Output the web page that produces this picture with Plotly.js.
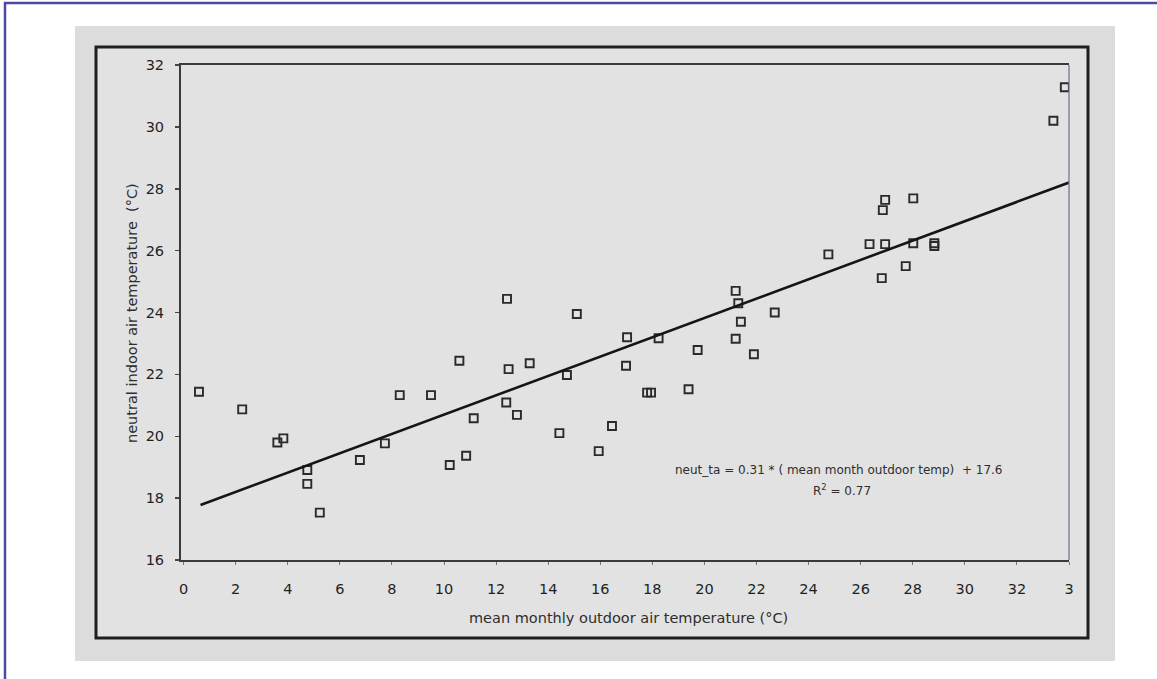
<!DOCTYPE html>
<html>
<head>
<meta charset="utf-8">
<script src="https://cdn.plot.ly/plotly-3.0.1.min.js"></script>
<style>html,body{margin:0;padding:0;background:#fff;}#chart{width:1157px;height:679px;}</style>
</head>
<body>
<div id="chart"></div>
<script>
// Observed points: mean monthly outdoor air temperature (°C) vs neutral indoor air temperature (°C)
const outdoorTemp = [0.59, 2.25, 3.6, 3.83, 4.75, 4.75, 5.23, 6.77, 7.73, 8.3, 9.5, 10.22, 10.59, 10.85, 11.14,
  12.39, 12.42, 12.48, 12.8, 13.29, 14.43, 14.72, 15.1, 15.94, 16.45, 16.99, 17.03, 17.8, 17.95, 18.24,
  19.39, 19.74, 21.2, 21.3, 21.4, 21.2, 21.9, 22.7, 24.76, 26.34, 26.81, 26.85, 26.94, 26.94, 27.73,
  28.02, 28.02, 28.83, 28.83, 33.4, 33.84];
const neutralTemp = [21.44, 20.87, 19.8, 19.93, 18.91, 18.46, 17.53, 19.23, 19.77, 21.33, 21.33, 19.07, 22.44, 19.37, 20.58,
  21.09, 24.44, 22.17, 20.69, 22.36, 20.1, 21.98, 23.95, 19.52, 20.33, 22.28, 23.2, 21.41, 21.41, 23.17,
  21.52, 22.79, 24.7, 24.3, 23.7, 23.15, 22.65, 24.0, 25.88, 26.21, 25.11, 27.31, 27.64, 26.21, 25.5,
  27.69, 26.24, 26.24, 26.15, 30.2, 31.28];
// Regression line
const fitX = [0.65, 34];
const fitY = [17.78, 28.2];
// Axis ticks
const xTickVals = [0, 2, 4, 6, 8, 10, 12, 14, 16, 18, 20, 22, 24, 26, 28, 30, 32, 34];
const xTickText = ['0', '2', '4', '6', '8', '10', '12', '14', '16', '18', '20', '22', '24', '26', '28', '30', '32', '3'];
const yTickVals = [16, 18, 20, 22, 24, 26, 28, 30, 32];
const yTickText = ['16', '18', '20', '22', '24', '26', '28', '30', '32'];
const xTitle = 'mean monthly outdoor air temperature (°C)';
const yTitle = 'neutral indoor air temperature  (°C)';
const eqText = 'neut_ta = 0.31 * ( mean month outdoor temp)  + 17.6';
const r2Text = 'R<sup>2</sup> = 0.77';

const W = 1157, H = 679;
const px = v => v / W;
const py = v => 1 - v / H;

const xL = 181, xR = 1069, yT = 65, yB = 560;

const traces = [
  {
    x: outdoorTemp, y: neutralTemp, type: 'scatter', mode: 'markers',
    marker: {symbol: 'square-open', size: 8, color: '#2a2a2a', line: {width: 1.9, color: '#2a2a2a'}},
    hoverinfo: 'x+y', showlegend: false
  },
  {
    x: fitX, y: fitY, type: 'scatter', mode: 'lines',
    line: {color: '#151515', width: 2.6}, hoverinfo: 'skip', showlegend: false
  }
];

const tickFont = {family: 'DejaVu Sans, sans-serif', size: 14.5, color: '#1f1f1f'};
const titleFont = {family: 'DejaVu Sans, sans-serif', size: 14.5, color: '#2e2e2e'};

const layout = {
  width: W, height: H,
  margin: {l: 0, r: 0, t: 0, b: 0, pad: 0},
  paper_bgcolor: '#ffffff',
  plot_bgcolor: 'rgba(0,0,0,0)',
  showlegend: false,
  xaxis: {
    domain: [px(xL), px(xR)],
    range: [-0.1, 34],
    tickvals: xTickVals, ticktext: xTickText,
    tickfont: tickFont,
    showgrid: false, zeroline: false,
    showline: true, linecolor: '#3a3a3a', linewidth: 2, mirror: true,
    ticks: 'outside', ticklen: 3, tickcolor: '#777', tickwidth: 1,
    ticklabelstandoff: 12,
    fixedrange: true
  },
  yaxis: {
    domain: [py(yB), py(yT)],
    range: [16, 32],
    tickvals: yTickVals, ticktext: yTickText,
    tickfont: tickFont,
    showgrid: false, zeroline: false,
    showline: true, linecolor: '#3a3a3a', linewidth: 2, mirror: false,
    ticks: 'outside', ticklen: 4, tickcolor: '#444', tickwidth: 1.5,
    ticklabelstandoff: 8,
    fixedrange: true
  },
  shapes: [
    // outer blue border
    {type: 'rect', xref: 'paper', yref: 'paper', x0: px(5), x1: px(1160), y0: py(690), y1: py(3),
     line: {color: '#4a4aa8', width: 2.5}, fillcolor: 'rgba(0,0,0,0)', layer: 'below'},
    // gray panel
    {type: 'rect', xref: 'paper', yref: 'paper', x0: px(75), x1: px(1115), y0: py(661), y1: py(26),
     line: {width: 0}, fillcolor: '#dcdcdc', layer: 'below'},
    // black frame
    {type: 'rect', xref: 'paper', yref: 'paper', x0: px(96), x1: px(1088), y0: py(638), y1: py(47),
     line: {color: '#1e1e1e', width: 3}, fillcolor: '#e2e2e2', layer: 'below'},
    // right side of plot box (thin, bluish)
    {type: 'line', xref: 'paper', yref: 'paper', x0: px(xR), x1: px(xR), y0: py(yB), y1: py(yT),
     line: {color: '#6e6e8e', width: 1.2}, layer: 'above'}
  ],
  annotations: [
    {text: yTitle, xref: 'paper', yref: 'paper', x: px(132), y: py(313), textangle: -90,
     showarrow: false, font: titleFont, xanchor: 'center', yanchor: 'middle'},
    {text: xTitle, xref: 'paper', yref: 'paper', x: px(628), y: py(618),
     showarrow: false, font: titleFont, xanchor: 'center', yanchor: 'middle'},
    {text: eqText, xref: 'paper', yref: 'paper', x: px(839), y: py(470),
     showarrow: false, font: {family: 'DejaVu Sans, sans-serif', size: 12, color: '#2e2e2e'}, xanchor: 'center', yanchor: 'middle'},
    {text: r2Text, xref: 'paper', yref: 'paper', x: px(842), y: py(490),
     showarrow: false, font: {family: 'DejaVu Sans, sans-serif', size: 12, color: '#2e2e2e'}, xanchor: 'center', yanchor: 'middle'}
  ]
};

Plotly.newPlot('chart', traces, layout, {displayModeBar: false, staticPlot: true});
</script>
</body>
</html>
